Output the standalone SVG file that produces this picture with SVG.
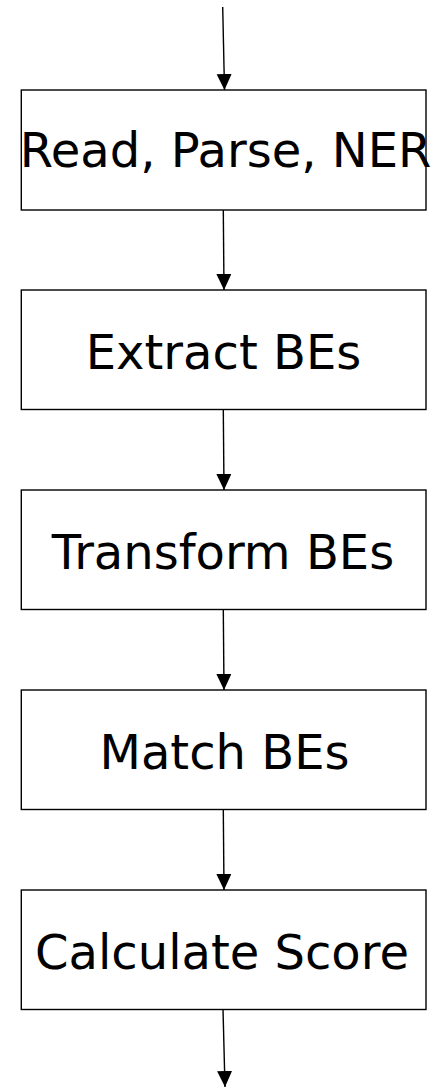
<svg xmlns="http://www.w3.org/2000/svg" width="438" height="1087" viewBox="0 0 438 1087">
  <style>
    .box { fill: #ffffff; stroke: #000000; stroke-width: 1.4; }
    .label { font-family: "DejaVu Sans", sans-serif; font-size: 48px; fill: #000000; text-anchor: middle; }
    .edge { stroke: #000000; stroke-width: 1.4; fill: none; marker-end: url(#arrow); }
  </style>
  <defs>
    <marker id="arrow" markerWidth="16" markerHeight="16" refX="16" refY="7.5" orient="auto" markerUnits="userSpaceOnUse">
      <path d="M0,0 L16,7.5 L0,15 Z" fill="#000000"/>
    </marker>
  </defs>
  <rect width="438" height="1087" fill="#ffffff"/>

  <g id="connectors">
    <line class="edge" x1="222.7" y1="7" x2="224.5" y2="90"/>
    <line class="edge" x1="223.3" y1="210" x2="224" y2="290"/>
    <line class="edge" x1="223.3" y1="410" x2="224" y2="490"/>
    <line class="edge" x1="223.3" y1="610" x2="224" y2="690"/>
    <line class="edge" x1="223.3" y1="810" x2="224" y2="890"/>
    <line class="edge" x1="223" y1="1009" x2="225" y2="1087"/>
  </g>

  <g id="read-parse-ner">
    <rect class="box" x="21.3" y="90" width="404.7" height="120"/>
    <text class="label" x="225.5" y="167">Read, Parse, NER</text>
  </g>
  <g id="extract-bes">
    <rect class="box" x="21.3" y="290" width="404.7" height="119.5"/>
    <text class="label" x="223.5" y="369">Extract BEs</text>
  </g>
  <g id="transform-bes">
    <rect class="box" x="21.3" y="490" width="404.7" height="119.5"/>
    <text class="label" x="223" y="569">Transform BEs</text>
  </g>
  <g id="match-bes">
    <rect class="box" x="21.3" y="690" width="404.7" height="119.5"/>
    <text class="label" x="224.5" y="769">Match BEs</text>
  </g>
  <g id="calculate-score">
    <rect class="box" x="21.3" y="890" width="404.7" height="119.5"/>
    <text class="label" x="222" y="969">Calculate Score</text>
  </g>
</svg>
